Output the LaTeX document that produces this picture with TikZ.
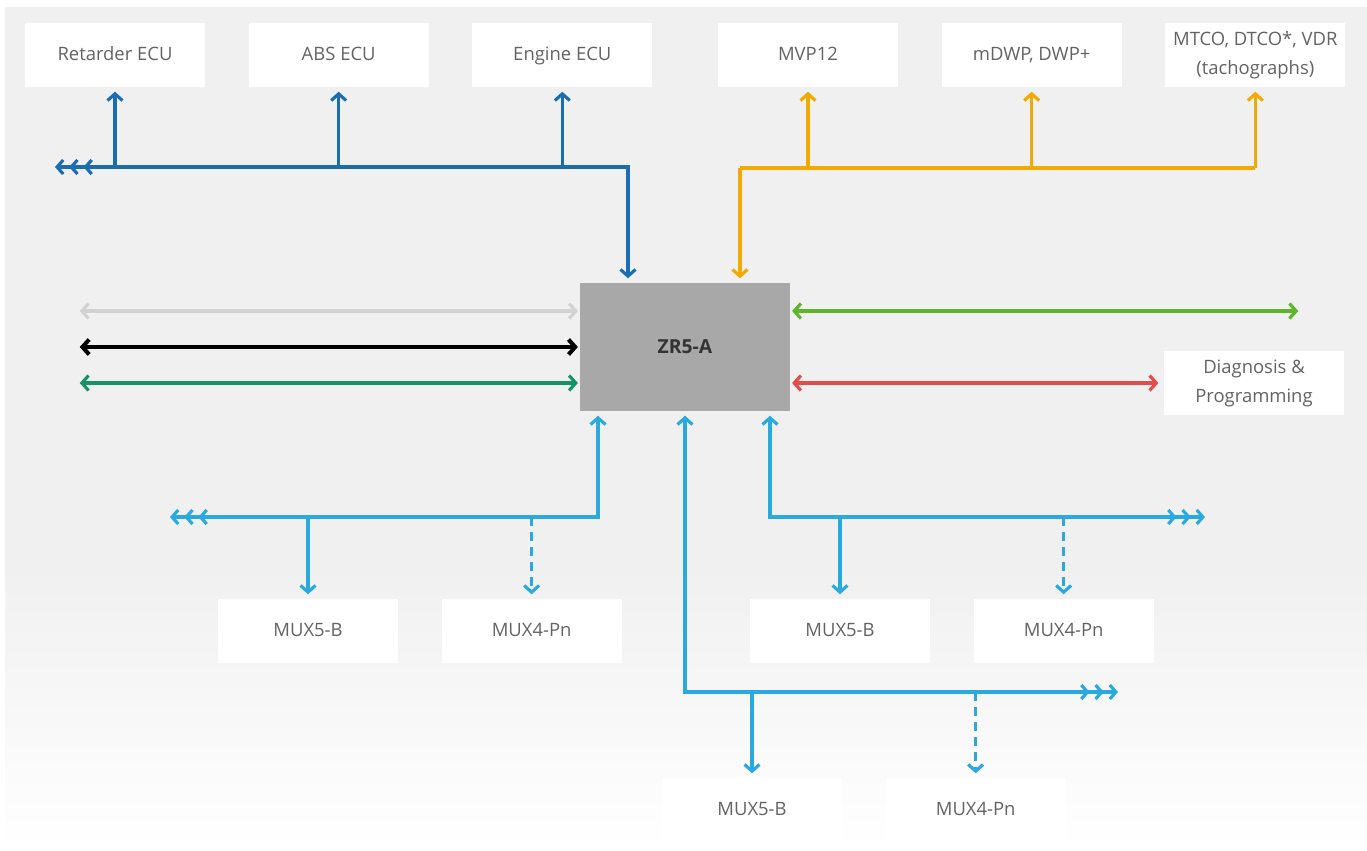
\documentclass[tikz,border=0pt]{standalone}
\usepackage{fontspec}
\setmainfont{Open Sans}
\usepackage{tikz}
\usetikzlibrary{positioning,arrows.meta}

\definecolor{canblue}{HTML}{1A6DB3}
\definecolor{canorange}{HTML}{F2A900}
\definecolor{cancyan}{HTML}{2AA9DF}
\definecolor{canteal}{HTML}{14936A}
\definecolor{cangreen}{HTML}{5DB52A}
\definecolor{canred}{HTML}{E64B4B}
\definecolor{canlight}{HTML}{D2D2D2}
\definecolor{boxtext}{HTML}{636363}
\definecolor{zrgray}{HTML}{A8A8A8}

\tikzset{
  chev/.tip={Straight Barb[length=3.8pt, width=8.5pt]},
  trip/.tip={Straight Barb[length=3.5pt, width=8pt, sep=2.5pt]
             Straight Barb[length=3.5pt, width=8pt, sep=2.5pt]
             Straight Barb[length=3.5pt, width=8pt]}
}

\begin{document}
\begin{tikzpicture}[
  x=0.02cm, y=-0.02cm,
  panel/.style={fill=white, minimum width=3.6cm, minimum height=1.28cm, align=center,
    text=boxtext, font=\fontsize{10.5}{16.5}\selectfont},
  unit/.style={panel, execute at begin node=\strut},
  core/.style={fill=zrgray, minimum width=4.2cm, minimum height=2.56cm,
    text=black!80, font=\fontsize{11}{13}\selectfont\bfseries},
  wire/.style={line width=1.8pt},
  arrow/.style={wire, -{chev}, shorten >=2.5pt},
  both/.style={wire, {chev}-{chev}, shorten >=1pt, shorten <=1pt},
  opt/.style={dash pattern=on 5pt off 3.5pt},
  node distance=0.86cm
]
\useasboundingbox (0,0) rectangle (1367,850);
\fill[gray!12] (5,7) rectangle (1367,850);
\shade[top color=gray!12, bottom color=white] (5,560) rectangle (1367,850);

% control units on top
\node[unit] (ret) at (115,55) {Retarder ECU};
\node[unit, right=of ret] (abs) {ABS ECU};
\node[unit, right=of abs] (eng) {Engine ECU};
\node[unit] (mvp) at (808,55) {MVP12};
\node[unit, right=of mvp] (dwp) {mDWP, DWP+};
\node[panel, right=of dwp] (tco) {MTCO, DTCO*, VDR\\(tachographs)};

\node[core] (zr) at (685,347) {ZR5-A};
\node[panel] (diag) at (1254,383) {Diagnosis \&\\Programming};

% MUX modules
\node[unit] (mxa) at (308,631) {MUX5-B};
\node[unit, right=of mxa] (mxb) {MUX4-Pn};
\node[unit] (mxc) at (840,631) {MUX5-B};
\node[unit, right=of mxc] (mxd) {MUX4-Pn};
\node[unit] (mxe) at (752,810) {MUX5-B};
\node[unit, right=of mxe] (mxf) {MUX4-Pn};

% blue bus
\coordinate (bbus) at (628,167);
\coordinate (bend) at (55,167);
\draw[wire, canblue, {trip}-{chev}, shorten >=2.5pt] (bend) -- (bbus) -- (bbus |- zr.north);
\foreach \n in {ret,abs,eng}
  \draw[arrow, canblue] (\n.south |- bbus) -- (\n.south);

% orange bus
\coordinate (obus) at (740,168);
\draw[wire, canorange] (obus) -- (tco.south |- obus);
\draw[arrow, canorange] (obus) -- (obus |- zr.north);
\foreach \n in {mvp,dwp,tco}
  \draw[arrow, canorange] (\n.south |- obus) -- (\n.south);

% left links
\coordinate (lgry) at (78,311);
\coordinate (lblk) at (78,347);
\coordinate (ltel) at (78,383);
\draw[both, canlight] (lgry) -- (lgry -| zr.west);
\draw[both, black, line width=2.3pt] (lblk) -- (lblk -| zr.west);
\draw[both, canteal] (ltel) -- (ltel -| zr.west);

% right links
\coordinate (rgrn) at (1300,311);
\draw[both, cangreen] (rgrn -| zr.east) -- (rgrn);
\draw[both, canred, shorten >=3pt] (diag.west -| zr.east) -- (diag.west);

% cyan buses
\coordinate (lb) at (598,517);
\coordinate (lbend) at (170,517);
\draw[wire, cancyan, {trip}-{chev}, shorten >=2.5pt] (lbend) -- (lb) -- (lb |- zr.south);
\draw[arrow, cancyan] (mxa.north |- lb) -- (mxa.north);
\draw[arrow, cancyan, opt] (mxb.north |- lb) -- (mxb.north);

\coordinate (rb) at (770,517);
\coordinate (rbend) at (1205,517);
\draw[wire, cancyan, {chev}-{trip}, shorten <=2.5pt] (rb |- zr.south) -- (rb) -- (rbend);
\draw[arrow, cancyan] (mxc.north |- rb) -- (mxc.north);
\draw[arrow, cancyan, opt] (mxd.north |- rb) -- (mxd.north);

\coordinate (bb) at (685,692);
\coordinate (bbend) at (1118,692);
\draw[wire, cancyan, {chev}-{trip}, shorten <=2.5pt] (bb |- zr.south) -- (bb) -- (bbend);
\draw[arrow, cancyan] (mxe.north |- bb) -- (mxe.north);
\draw[arrow, cancyan, opt] (mxf.north |- bb) -- (mxf.north);
\end{tikzpicture}
\end{document}
